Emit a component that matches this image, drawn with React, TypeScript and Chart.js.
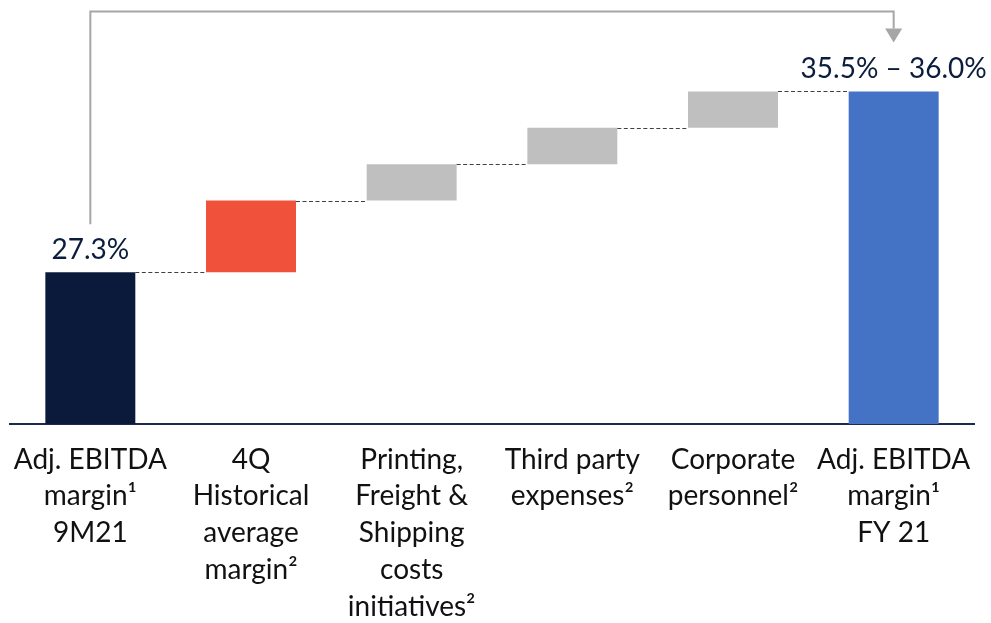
import React, { useEffect, useRef } from "react";
import { Chart, registerables } from "chart.js";

Chart.register(...registerables);

// Waterfall: starting margin, four drivers, ending margin
const categories: string[][] = [
  ["Adj. EBITDA", "margin¹", "9M21"],
  ["4Q", "Historical", "average", "margin²"],
  ["Printing,", "Freight &", "Shipping", "costs", "initiatives²"],
  ["Third party", "expenses²"],
  ["Corporate", "personnel²"],
  ["Adj. EBITDA", "margin¹", "FY 21"],
];
const startMargin = 27.3;
const driverSteps = [3.45, 1.75, 1.75, 1.75];
const endMargin = 36.0;
const startLabel = "27.3%";
const endLabel = "35.5% – 36.0%";
const barColors = ["#0b1a3b", "#f0513a", "#bfbfbf", "#bfbfbf", "#bfbfbf", "#4472c4"];

const axisMin = 20;
const axisMax = 40.4;

const FONT = "Lato, 'Open Sans', sans-serif";

export default function App() {
  const canvasRef = useRef<HTMLCanvasElement | null>(null);

  useEffect(() => {
    let chart: Chart | null = null;
    let cancelled = false;

    // floating [low, high] pairs for each bar
    const ranges: [number, number][] = [[axisMin, startMargin]];
    let level = startMargin;
    for (const s of driverSteps) {
      ranges.push([level, level + s]);
      level += s;
    }
    ranges.push([axisMin, endMargin]);
    const tops = ranges.map((r) => r[1]);

    const overlay = {
      id: "waterfallOverlay",
      afterDatasetsDraw(c: any) {
        const { ctx, chartArea } = c;
        const y = c.scales.y;
        const bars = c.getDatasetMeta(0).data;
        ctx.save();

        // dashed connectors between consecutive bars
        ctx.strokeStyle = "#404040";
        ctx.lineWidth = 1;
        ctx.setLineDash([4, 2.5]);
        for (let i = 0; i < bars.length - 1; i++) {
          const py = Math.round(y.getPixelForValue(tops[i])) + 0.5;
          const x1 = bars[i].x + bars[i].width / 2;
          const x2 = bars[i + 1].x - bars[i + 1].width / 2;
          ctx.beginPath();
          ctx.moveTo(x1, py);
          ctx.lineTo(x2, py);
          ctx.stroke();
        }
        ctx.setLineDash([]);

        // value labels
        ctx.fillStyle = "#0c1c3c";
        ctx.font = `28px ${FONT}`;
        ctx.textAlign = "center";
        ctx.textBaseline = "alphabetic";
        const first = bars[0];
        const last = bars[bars.length - 1];
        const firstTop = y.getPixelForValue(startMargin);
        const lastTop = y.getPixelForValue(endMargin);
        ctx.fillText(startLabel, first.x, firstTop - 13);
        ctx.fillText(endLabel, last.x, lastTop - 13);

        // bracket arrow from first to last bar
        const topY = chartArea.top + 11.5;
        const headTip = lastTop - 49;
        const headBase = headTip - 14;
        ctx.strokeStyle = "#a6a6a6";
        ctx.fillStyle = "#a6a6a6";
        ctx.lineWidth = 2;
        ctx.beginPath();
        ctx.moveTo(first.x, firstTop - 48);
        ctx.lineTo(first.x, topY);
        ctx.lineTo(last.x, topY);
        ctx.lineTo(last.x, headBase);
        ctx.stroke();
        ctx.beginPath();
        ctx.moveTo(last.x - 8.5, headBase);
        ctx.lineTo(last.x + 8.5, headBase);
        ctx.lineTo(last.x, headTip);
        ctx.closePath();
        ctx.fill();

        ctx.restore();
      },
    };

    const build = () => {
      if (cancelled || !canvasRef.current) return;
      chart = new Chart(canvasRef.current, {
        type: "bar",
        data: {
          labels: categories,
          datasets: [
            {
              data: ranges as any,
              backgroundColor: barColors,
              borderWidth: 0,
              categoryPercentage: 1,
              barPercentage: 0.56,
            },
          ],
        },
        options: {
          animation: false,
          responsive: true,
          maintainAspectRatio: false,
          layout: { padding: { left: 10, right: 17, top: 0, bottom: 0 } },
          plugins: {
            legend: { display: false },
            tooltip: { enabled: false },
          },
          scales: {
            x: {
              grid: { display: false, drawTicks: false },
              border: { display: true, color: "#1c2b4d", width: 2 },
              ticks: {
                color: "#111111",
                font: { family: FONT, size: 28, lineHeight: 1.32 },
                padding: 17,
                maxRotation: 0,
                minRotation: 0,
                autoSkip: false,
              },
              afterFit(scale: any) {
                scale.height = 199;
                scale.paddingLeft = 0;
                scale.paddingRight = 0;
              },
            },
            y: {
              display: false,
              min: axisMin,
              max: axisMax,
            },
          },
        },
        plugins: [overlay],
      });
    };

    const fonts = (document as any).fonts;
    if (fonts && fonts.load) {
      fonts.load(`28px Lato`).then(build, build);
    } else {
      build();
    }

    return () => {
      cancelled = true;
      if (chart) chart.destroy();
    };
  }, []);

  return (
    <div style={{ position: "absolute", left: 0, top: 0, width: 991, height: 623, background: "#ffffff" }}>
      <canvas ref={canvasRef} />
    </div>
  );
}
